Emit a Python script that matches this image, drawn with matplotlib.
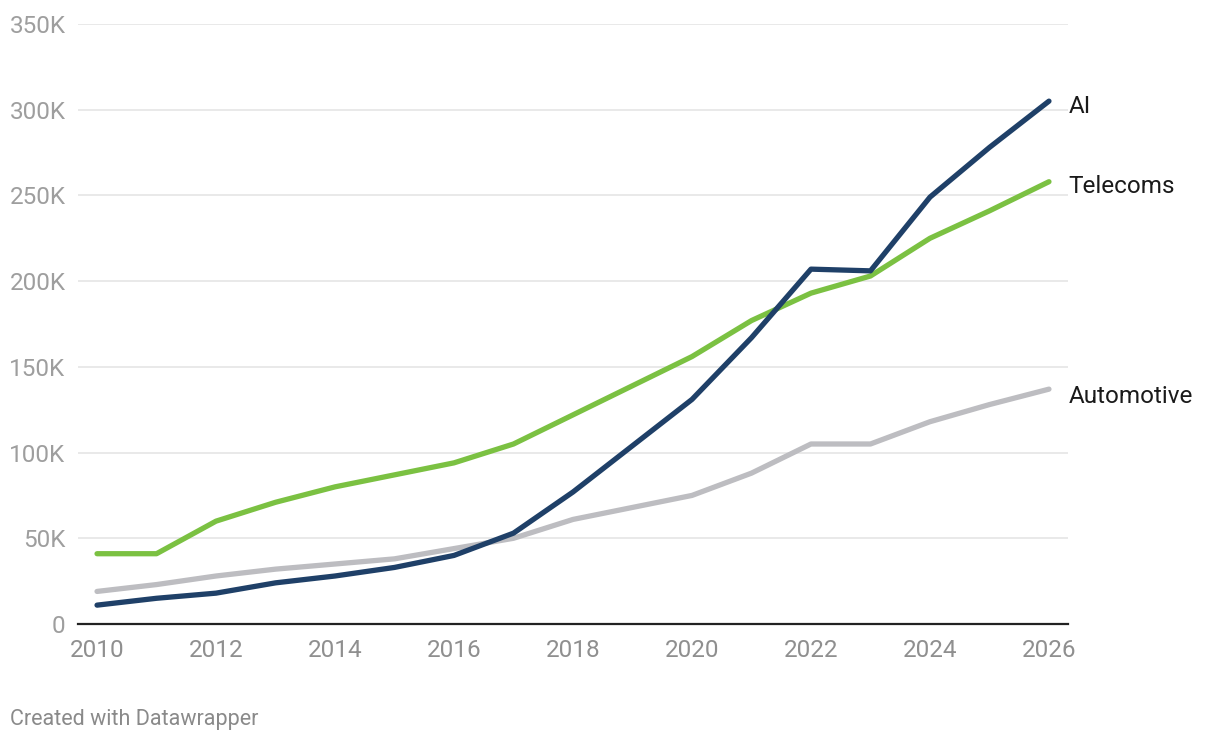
import matplotlib.pyplot as plt

years = list(range(2010, 2027))
ai = [11, 15, 18, 24, 28, 33, 40, 53, 77, 104, 131, 167, 207, 206, 249, 278, 305]
telecoms = [41, 41, 60, 71, 80, 87, 94, 105, 122, 139, 156, 177, 193, 203, 225, 241, 258]
automotive = [19, 23, 28, 32, 35, 38, 44, 50, 61, 68, 75, 88, 105, 105, 118, 128, 137]
yticks = [0, 50, 100, 150, 200, 250, 300, 350]
ytick_labels = ["0", "50K", "100K", "150K", "200K", "250K", "300K", "350K"]
xticks = list(range(2010, 2027, 2))

plt.rcParams['font.family'] = ['Roboto', 'DejaVu Sans']

fig = plt.figure(figsize=(12.2, 7.4), dpi=100)
ax = fig.add_axes([78/1220, 116/740, 990/1220, 600/740])

series = [
    ("Automotive", automotive, "#bdbdc1"),
    ("Telecoms", telecoms, "#7bc142"),
    ("AI", ai, "#1f4068"),
]
for name, vals, col in series:
    ax.plot(years, [v * 1000 for v in vals], color=col, lw=3.8,
            solid_capstyle='round', solid_joinstyle='round', clip_on=False, zorder=3)

# direct labels at line ends (offset in points)
label_dy = {"AI": -3.5, "Telecoms": -3.5, "Automotive": -5.5}
for name, vals, col in series:
    ax.annotate(name, (years[-1], vals[-1] * 1000),
                xytext=(14, label_dy[name]), textcoords='offset points',
                ha='left', va='center', fontsize=17.5, color='#1a1a1a',
                annotation_clip=False)

ax.set_xlim(2009.68, 2026.32)
ax.set_ylim(0, 350000)
ax.set_yticks([v * 1000 for v in yticks])
ax.set_yticklabels(ytick_labels)
ax.set_xticks(xticks)

for s in ['top', 'right', 'left']:
    ax.spines[s].set_visible(False)
ax.spines['bottom'].set_color('#222222')
ax.spines['bottom'].set_linewidth(1.6)
ax.spines['bottom'].set_zorder(4)

ax.grid(axis='y', color='#e3e3e3', lw=1.1)
ax.set_axisbelow(True)
ax.tick_params(axis='y', length=0, pad=9, labelsize=17.5, labelcolor='#9e9e9e')
ax.tick_params(axis='x', length=0, pad=11, labelsize=17.5, labelcolor='#8f8f8f')

fig.text(10/1220, 1 - 719/740, "Created with Datawrapper", fontsize=15.5,
         color='#8a8a8a', ha='left', va='center')

fig.savefig("out.png", dpi=100)
